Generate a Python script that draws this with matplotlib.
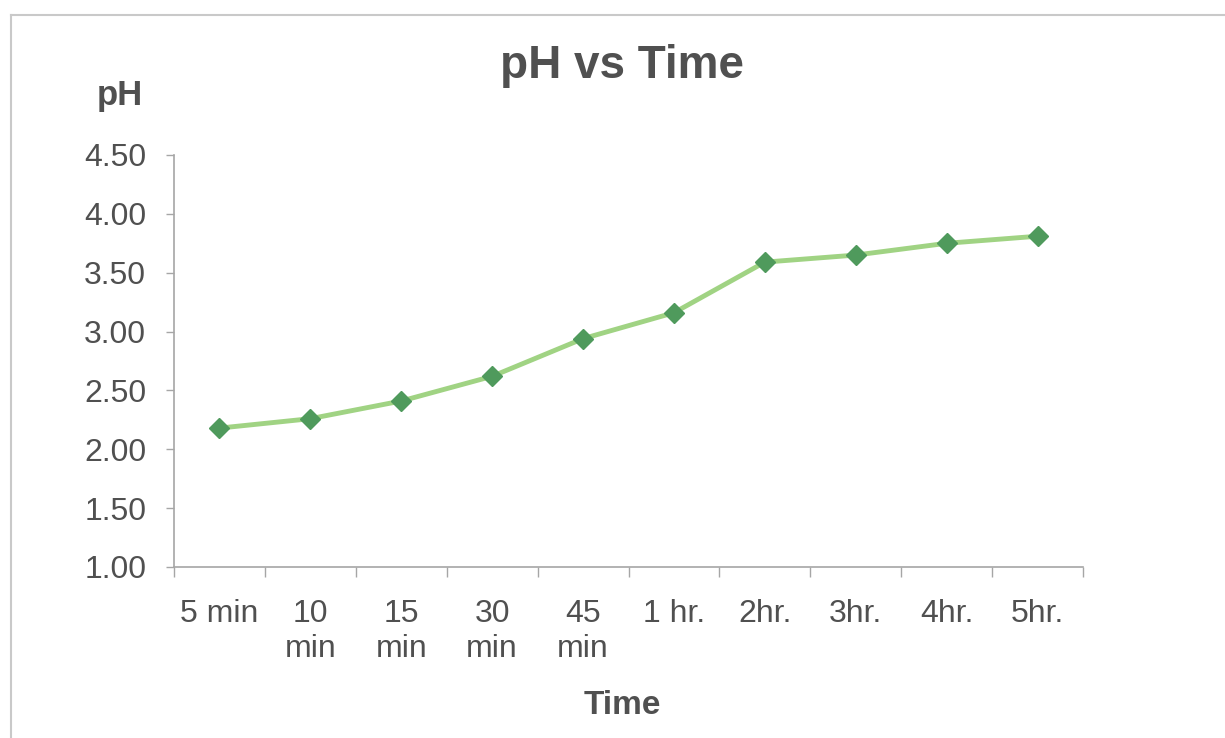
import matplotlib.pyplot as plt
from matplotlib.lines import Line2D
import numpy as np

# Time points and measured pH
time_labels = ["5 min", "10\nmin", "15\nmin", "30\nmin", "45\nmin",
               "1 hr.", "2hr.", "3hr.", "4hr.", "5hr."]
ph_values = [2.18, 2.26, 2.41, 2.62, 2.94, 3.16, 3.59, 3.65, 3.75, 3.81]
y_ticks = [1.00, 1.50, 2.00, 2.50, 3.00, 3.50, 4.00, 4.50]

TEXT = "#505050"
AXIS = "#a6a6a6"
LINE = "#a0d383"
MARK = "#4f9a5c"

plt.rcParams['font.family'] = ['Liberation Sans', 'DejaVu Sans']

fig = plt.figure(figsize=(12.25, 7.38), dpi=100)
fig.patch.set_facecolor("white")
ax = fig.add_axes([174 / 1225, 1 - 567 / 738, (1083 - 174) / 1225, (567 - 155) / 738])

x = np.arange(len(ph_values))
ax.plot(x, ph_values, color=LINE, linewidth=3.5, marker="D", markersize=10.5,
        markerfacecolor=MARK, markeredgecolor=MARK, zorder=3)

ax.set_xlim(-0.5, len(ph_values) - 0.5)
ax.set_ylim(1.0, 4.5)

# category boundaries carry the tick marks, labels sit at the centres
ax.set_xticks(np.arange(-0.5, len(ph_values)), labels=[])
ax.set_xticks(x, labels=time_labels, minor=True)
ax.tick_params(axis="x", which="major", length=7, width=1, color=AXIS, direction="out")
ax.tick_params(axis="x", which="minor", length=0, pad=23, labelsize=23, labelcolor=TEXT)

ax.set_yticks(y_ticks, labels=[f"{v:.2f}" for v in y_ticks])
ax.tick_params(axis="y", length=6, width=1, color=AXIS, direction="out",
               pad=14, labelsize=23, labelcolor=TEXT)

for side in ("top", "right"):
    ax.spines[side].set_visible(False)
for side in ("left", "bottom"):
    ax.spines[side].set_color(AXIS)
    ax.spines[side].set_linewidth(1.2)

for lbl in ax.get_xticklabels(minor=True):
    lbl.set_verticalalignment("top")
    lbl.set_linespacing(1.2)

fig.text(622 / 1225, 1 - 66 / 738, "pH vs Time", ha="center", va="center",
         fontsize=33, fontweight="bold", color=TEXT)
fig.text(120 / 1225, 1 - 96 / 738, "pH", ha="center", va="center",
         fontsize=25, fontweight="bold", color=TEXT)
fig.text(622 / 1225, 1 - 706 / 738, "Time", ha="center", va="center",
         fontsize=24, fontweight="bold", color=TEXT)

# chart area frame
fig.add_artist(Line2D([11 / 1225, 11 / 1225], [0, 1 - 15 / 738],
                      transform=fig.transFigure, color="#c9c9c9", linewidth=1.5))
fig.add_artist(Line2D([11 / 1225, 1], [1 - 15 / 738, 1 - 15 / 738],
                      transform=fig.transFigure, color="#c9c9c9", linewidth=1.5))

fig.savefig("out.png", dpi=100)
